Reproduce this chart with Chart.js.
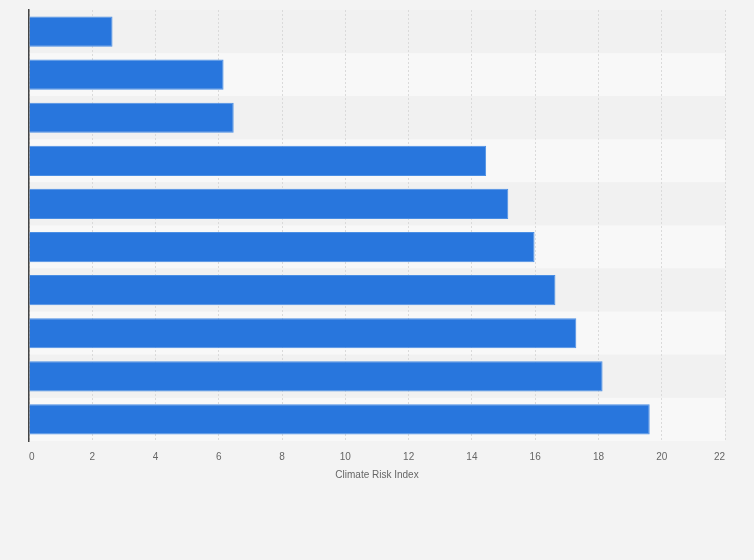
<!DOCTYPE html>
<html>
<head>
<meta charset="utf-8">
<script src="https://cdn.jsdelivr.net/npm/chart.js@4.4.1/dist/chart.umd.min.js"></script>
<style>
html,body{margin:0;padding:0;background:#f3f3f3;}
#wrap{width:754px;height:560px;position:relative;}
</style>
</head>
<body>
<div id="wrap"><canvas id="c" width="754" height="560"></canvas></div>
<script>
const categories = ["Rank 10","Rank 9","Rank 8","Rank 7","Rank 6","Rank 5","Rank 4","Rank 3","Rank 2","Rank 1"];
const riskValues = [2.64, 6.15, 6.47, 14.45, 15.15, 15.98, 16.64, 17.3, 18.13, 19.62];
const xTicks = [0,2,4,6,8,10,12,14,16,18,20,22];
const axisTitle = "Climate Risk Index";

const bandPlugin = {
  id: 'bands',
  beforeDraw(chart){
    const {ctx, width, height, chartArea, scales} = chart;
    ctx.save();
    ctx.fillStyle = '#f3f3f3';
    ctx.fillRect(0,0,width,height);
    const y = scales.y;
    const half = (y.getPixelForValue(1) - y.getPixelForValue(0)) / 2;
    for (let i = 0; i < categories.length; i++) {
      const c = y.getPixelForValue(i);
      ctx.fillStyle = (i % 2 === 0) ? '#f1f1f1' : '#f8f8f8';
      ctx.fillRect(chartArea.left, c - half, chartArea.right - chartArea.left, half * 2);
    }
    ctx.restore();
  }
};

new Chart(document.getElementById('c'), {
  type: 'bar',
  data: {
    labels: categories,
    datasets: [{
      data: riskValues,
      backgroundColor: '#2876dd',
      borderColor: '#4b8fe4',
      borderWidth: 1,
      barPercentage: 0.70,
      categoryPercentage: 1.0
    }]
  },
  options: {
    indexAxis: 'y',
    responsive: false,
    animation: false,
    devicePixelRatio: 1,
    layout: { padding: { left: 29, right: 29, top: 10, bottom: 79 } },
    plugins: { legend: { display: false }, tooltip: { enabled: false } },
    scales: {
      x: {
        min: 0, max: 22,
        afterBuildTicks(axis){ axis.ticks = xTicks.map(v => ({value: v})); },
        ticks: { color: '#666', align: 'inner', font: { family: 'Arial, Liberation Sans', size: 10 }, padding: 10 },
        grid: { color: '#dadada', drawTicks: false },
        border: { display: false, dash: [2,2] },
        title: { display: true, text: axisTitle, color: '#666', font: { family: 'Arial, Liberation Sans', size: 10 }, padding: { top: -4, bottom: 0 } }
      },
      y: {
        ticks: { display: false },
        grid: { display: false, drawTicks: false },
        border: { display: true, color: '#444', width: 1.5 }
      }
    }
  },
  plugins: [bandPlugin]
});
</script>
</body>
</html>
